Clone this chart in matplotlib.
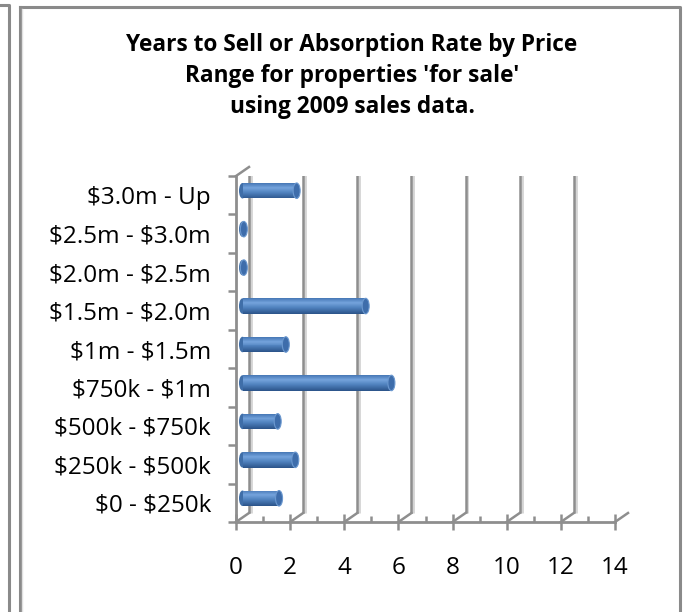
import matplotlib
matplotlib.use('Agg')
import matplotlib.pyplot as plt
import numpy as np
from matplotlib.patches import Ellipse
from matplotlib.lines import Line2D

plt.rcParams['text.parse_math'] = False
plt.rcParams['font.family'] = ['Open Sans', 'DejaVu Sans']

# ---- data ----
categories = ['$0 - $250k', '$250k - $500k', '$500k - $750k', '$750k - $1m',
              '$1m - $1.5m', '$1.5m - $2.0m', '$2.0m - $2.5m', '$2.5m - $3.0m',
              '$3.0m - Up']
years = [1.35, 1.95, 1.3, 5.5, 1.6, 4.55, 0.05, 0.05, 2.0]
xticks = [0, 2, 4, 6, 8, 10, 12, 14]
xminor = [1, 3, 5, 7, 9, 11, 13]
title = "Years to Sell or Absorption Rate by Price\nRange for properties 'for sale'\nusing 2009 sales data."

W, H = 683, 612
fig = plt.figure(figsize=(W / 100, H / 100), dpi=100)
fig.patch.set_facecolor('white')

GRID = '#8e8e8e'
SHADOW = '#d4d4d4'

# chart borders
def fline(xs, ys, **kw):
    fig.add_artist(Line2D([x / W for x in xs], [1 - y / H for y in ys],
                          transform=fig.transFigure, **kw))

fline([19.5, 680, 680, 19.5, 19.5], [7, 7, 640, 640, 7], color='#8a8a8a', lw=2.2)
fline([21.5, 21.5], [9, 640], color='#e0e0e0', lw=1)
fline([0, 8.5, 8.5], [5, 5, 640], color='#8a8a8a', lw=2.2)

# axes (front plane)
x0, x1 = 236, 615
yb, yt = 522, 176
ax = fig.add_axes([x0 / W, 1 - yb / H, (x1 - x0) / W, (yb - yt) / H])
ax.set_xlim(0, 14)
ax.set_ylim(0, len(categories))
ax.patch.set_alpha(0)
for s in ['top', 'right']:
    ax.spines[s].set_visible(False)
for s in ['left', 'bottom']:
    ax.spines[s].set_color(GRID)
    ax.spines[s].set_linewidth(2)

# depth offsets in data units (derived from axis scale)
ppx = (x1 - x0) / 14.0
ppy = (yb - yt) / len(categories)
DX = 13 / ppx
DY = 9 / ppy

# back wall gridlines with shadow + floor diagonals
for v in xticks:
    ax.plot([v + DX + 0.07, v + DX + 0.07], [DY, len(categories) + DY], color=SHADOW, lw=2, zorder=1, solid_capstyle='butt')
    ax.plot([v + DX, v + DX], [DY, len(categories) + DY], color=GRID, lw=1.8, zorder=1.1, solid_capstyle='butt')
    ax.plot([v, v + DX], [0, DY], color=GRID, lw=1.8, zorder=1.1, clip_on=False)
# top-left diagonal of side wall
ax.plot([0, DX], [len(categories), len(categories) + DY], color=GRID, lw=1.8, clip_on=False)

# bars (cylinders)
yc = np.arange(len(categories)) + 0.5 + DY / 2
bh = 15.5 / ppy
start = DX / 2
nstrip = 16
top_c = np.array([0x45, 0x76, 0xb4]) / 255
hi_c = np.array([0x74, 0xa3, 0xdc]) / 255
mid_c = np.array([0x4f, 0x81, 0xbd]) / 255
bot_c = np.array([0x2a, 0x52, 0x88]) / 255

def shade(t):
    # t: 0 at bottom, 1 at top
    if t > 0.7:
        f = (t - 0.7) / 0.3
        return hi_c * (1 - f) + top_c * f
    elif t > 0.4:
        f = (t - 0.4) / 0.3
        return mid_c * (1 - f) + hi_c * f
    else:
        f = t / 0.4
        return bot_c * (1 - f) + mid_c * f

capw = 7 / ppx
for y, v in zip(yc, years):
    ax.add_patch(Ellipse((start, y), capw, bh, facecolor='#3f6ea8', edgecolor='none', zorder=2.9))
for i in range(nstrip):
    t = (i + 0.5) / nstrip
    ax.barh(yc - bh / 2 + i * bh / nstrip, years, height=bh / nstrip, left=start,
            align='edge', color=shade(t), edgecolor='none', zorder=3)
for y, v in zip(yc, years):
    ax.add_patch(Ellipse((start + v, y), capw, bh, facecolor='#3e6dab', edgecolor='#6b98cf', lw=0.8, zorder=4))

# ticks
ax.set_xticks(xticks)
ax.set_xticklabels([str(t) for t in xticks])
ax.set_xticks(xminor, minor=True)
ax.tick_params(axis='x', which='major', direction='inout', length=11, width=1.8, color=GRID,
               labelsize=17.5, pad=19, labelcolor='black')
ax.tick_params(axis='x', which='minor', direction='in', length=4, width=1.8, color=GRID)
ax.set_yticks(np.arange(len(categories) + 1))
ax.set_yticklabels([''] * (len(categories) + 1))
ax.set_yticks(np.arange(len(categories)) + 0.5, minor=True)
ax.set_yticklabels(categories, minor=True)
ax.tick_params(axis='y', which='major', direction='out', length=6, width=1.8, color=GRID)
ax.tick_params(axis='y', which='minor', length=0, labelsize=17.5, pad=25 * 0.72)

fig.text(352 / W, 1 - 76 / H, title, ha='center', va='center', fontsize=16.3,
         fontweight='bold', linespacing=1.38)

fig.savefig('out.png', dpi=100, facecolor='white')
